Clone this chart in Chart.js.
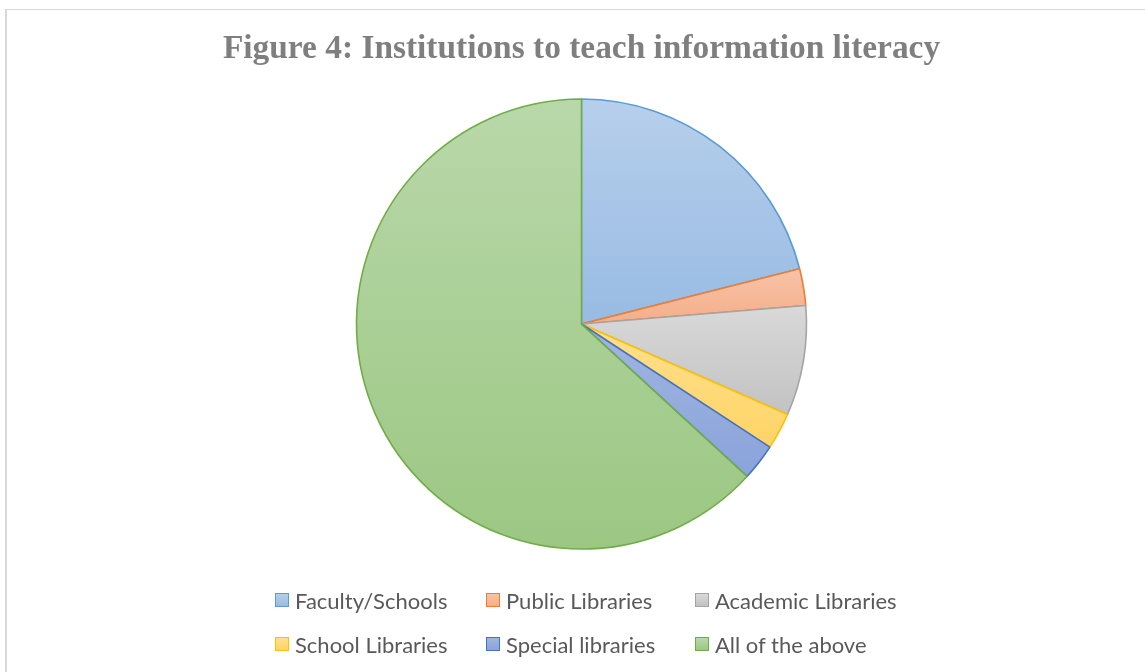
<!DOCTYPE html>
<html>
<head>
<meta charset="utf-8">
<script src="https://cdn.jsdelivr.net/npm/chart.js@4.4.1/dist/chart.umd.min.js"></script>
<style>
  html, body { margin: 0; padding: 0; background: #ffffff; width: 1145px; height: 672px; overflow: hidden; position: relative; }
  #frame { position: absolute; left: 5px; top: 9px; width: 1149px; height: 700px; border-left: 2px solid #d9d9d9; border-top: 1px solid #d9d9d9; }
  #chart { position: absolute; left: 0; top: 0; }
  #legend { position: absolute; left: 275px; top: 578px; display: grid; grid-template-columns: 211px 209px auto; grid-auto-rows: 44px; font-family: Lato, "Noto Sans", sans-serif; font-size: 22px; color: #595959; }
  .item { display: flex; align-items: center; white-space: nowrap; }
  .box { width: 12px; height: 12px; border: 1px solid; margin-right: 6px; flex: none; }
</style>
</head>
<body>
<div id="frame"><canvas id="chart" width="1149" height="662"></canvas></div>
<div id="legend"></div>
<script>
// ---- data ----
const titleText = "Figure 4: Institutions to teach information literacy";
const categories = ["Faculty/Schools", "Public Libraries", "Academic Libraries", "School Libraries", "Special libraries", "All of the above"];
const counts = [8, 1, 3, 1, 1, 24];

// ---- styles ----
const borderColors = ["#5b9bd5", "#ed7d31", "#a5a5a5", "#ffc000", "#4472c4", "#70ad47"];
const lightFills   = ["#b7cfeb", "#f8c3a8", "#d9d9d9", "#ffe08e", "#a0b5e0", "#b9d8aa"];
const darkFills    = ["#98bbe3", "#f4ae88", "#c2c2c2", "#ffd466", "#8aa3da", "#9cc783"];

function sectorBBox(arc) {
  const { x, y, startAngle, endAngle, outerRadius } = arc;
  let minY = y, maxY = y;
  const pts = [startAngle, endAngle];
  for (let k = -4; k <= 8; k++) {
    const a = k * Math.PI / 2;
    if (a > startAngle && a < endAngle) pts.push(a);
  }
  pts.forEach(a => {
    const py = y + Math.sin(a) * outerRadius;
    minY = Math.min(minY, py); maxY = Math.max(maxY, py);
  });
  return { minY, maxY };
}

const sliceGradient = {
  id: 'sliceGradient',
  beforeDatasetsDraw(chart) {
    const meta = chart.getDatasetMeta(0);
    const c = chart.ctx;
    meta.data.forEach((arc, i) => {
      const { minY, maxY } = sectorBBox(arc);
      const g = c.createLinearGradient(0, minY, 0, maxY);
      g.addColorStop(0, lightFills[i]);
      g.addColorStop(1, darkFills[i]);
      arc.options.backgroundColor = g;
    });
  }
};

const chart = new Chart(document.getElementById('chart'), {
  type: 'pie',
  data: {
    labels: categories,
    datasets: [{
      data: counts,
      backgroundColor: darkFills,
      borderColor: borderColors,
      borderWidth: 1.6,
      radius: 225
    }]
  },
  options: {
    responsive: false,
    animation: false,
    devicePixelRatio: 1,
    layout: { padding: { left: 0, right: 0, top: 0, bottom: 123 } },
    plugins: {
      legend: { display: false },
      tooltip: { enabled: false },
      title: {
        display: true,
        text: titleText,
        color: '#7f7f7f',
        font: { family: '"Liberation Serif", "Times New Roman", serif', size: 33.4, weight: 'bold', lineHeight: 1.2 },
        padding: { top: 19.5, bottom: 29.5 }
      }
    }
  },
  plugins: [sliceGradient]
});

// HTML legend built from the chart's own legend items
const legendEl = document.getElementById('legend');
const items = Chart.overrides.pie.plugins.legend.labels.generateLabels(chart);
items.forEach((it) => {
  const d = document.createElement('div');
  d.className = 'item';
  const b = document.createElement('span');
  b.className = 'box';
  b.style.borderColor = borderColors[it.index];
  b.style.background = 'linear-gradient(' + lightFills[it.index] + ',' + darkFills[it.index] + ')';
  const t = document.createElement('span');
  t.textContent = it.text;
  d.appendChild(b); d.appendChild(t);
  legendEl.appendChild(d);
});
</script>
</body>
</html>
